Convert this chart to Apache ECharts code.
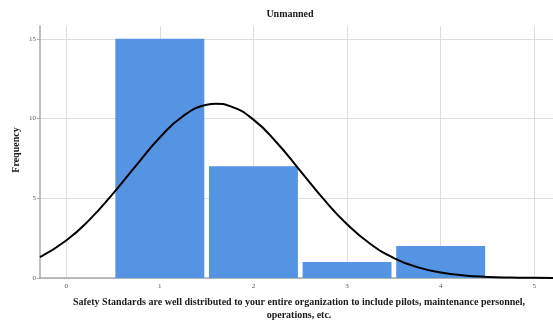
<!DOCTYPE html>
<html>
<head>
<meta charset="utf-8">
<script src="https://cdn.jsdelivr.net/npm/echarts@6/dist/echarts.min.js"></script>
<style>html,body{margin:0;padding:0;background:#fff}#c{width:553px;height:321px}</style>
</head>
<body>
<div id="c"></div>
<script>
var titleText = 'Unmanned';
var xAxisTitle = 'Safety Standards are well distributed to your entire organization to include pilots, maintenance personnel,\noperations, etc.';
var yAxisTitle = 'Frequency';
var binCenters = [1, 2, 3, 4];
var frequencies = [15, 7, 1, 2];
var xTicks = [0, 1, 2, 3, 4, 5];
var yTicks = [0, 5, 10, 15];
var curveX = [-0.28, 0, 0.25, 0.5, 0.75, 1, 1.25, 1.5, 1.6, 1.75, 2, 2.25, 2.5, 2.75, 3, 3.25, 3.5, 3.75, 4, 4.25, 4.5, 4.75, 5, 5.2];
var curveY = [1.31, 2.35, 3.66, 5.29, 7.08, 8.81, 10.16, 10.86, 10.93, 10.78, 9.93, 8.48, 6.72, 4.94, 3.37, 2.13, 1.25, 0.68, 0.35, 0.16, 0.07, 0.03, 0.01, 0.0];

var chart = echarts.init(document.getElementById('c'), null, {renderer: 'canvas'});
var serif = '"Liberation Serif", "DejaVu Serif", serif';
var barHalf = 0.475;

chart.setOption({
  animation: false,
  backgroundColor: '#ffffff',
  title: {
    text: titleText, left: 285, top: 4, textAlign: 'center',
    textStyle: {fontFamily: serif, fontWeight: 'bold', fontSize: 10, color: '#1a1a1a'}
  },
  graphic: [
    {type: 'text', x: 16, y: 150, rotation: Math.PI / 2,
     style: {text: yAxisTitle, font: 'bold 10px ' + serif, fill: '#1a1a1a', align: 'center', verticalAlign: 'middle'}},
    {type: 'text', x: 299, y: 296,
     style: {text: xAxisTitle, font: 'bold 10px ' + serif, fill: '#1a1a1a', align: 'center', lineHeight: 13}}
  ],
  grid: {left: 40, right: 0, top: 26, bottom: 43, containLabel: false},
  xAxis: {
    type: 'value', min: -0.28, max: 5.2,
    axisLine: {show: true, onZero: false, lineStyle: {color: '#a8a8a8', width: 1.5}},
    axisTick: {show: false, customValues: xTicks},
    axisLabel: {customValues: xTicks, fontFamily: serif, fontSize: 7, color: '#555', margin: 5},
    splitLine: {show: true, lineStyle: {color: '#dddddd', width: 1}}
  },
  yAxis: {
    type: 'value', min: 0, max: 15.8,
    axisLine: {show: true, onZero: false, lineStyle: {color: '#a8a8a8', width: 1.5}},
    axisTick: {show: true, length: 3, customValues: yTicks, lineStyle: {color: '#a8a8a8'}},
    axisLabel: {customValues: yTicks, fontFamily: serif, fontSize: 7, color: '#555', margin: 4},
    splitLine: {show: true, lineStyle: {color: '#dddddd', width: 1}}
  },
  series: [
    {
      type: 'custom',
      data: binCenters.map(function (c, i) { return [c, frequencies[i]]; }),
      renderItem: function (params, api) {
        var c = api.value(0), v = api.value(1);
        var p0 = api.coord([c - barHalf, v]);
        var p1 = api.coord([c + barHalf, 0]);
        return {type: 'rect', shape: {x: p0[0], y: p0[1], width: p1[0] - p0[0], height: p1[1] - p0[1]},
                style: {fill: '#5593e3'}};
      },
      z: 2
    },
    {
      type: 'line', smooth: true, symbol: 'none',
      data: curveX.map(function (x, i) { return [x, curveY[i]]; }),
      lineStyle: {color: '#000', width: 2},
      z: 3
    }
  ]
});
</script>
</body>
</html>
